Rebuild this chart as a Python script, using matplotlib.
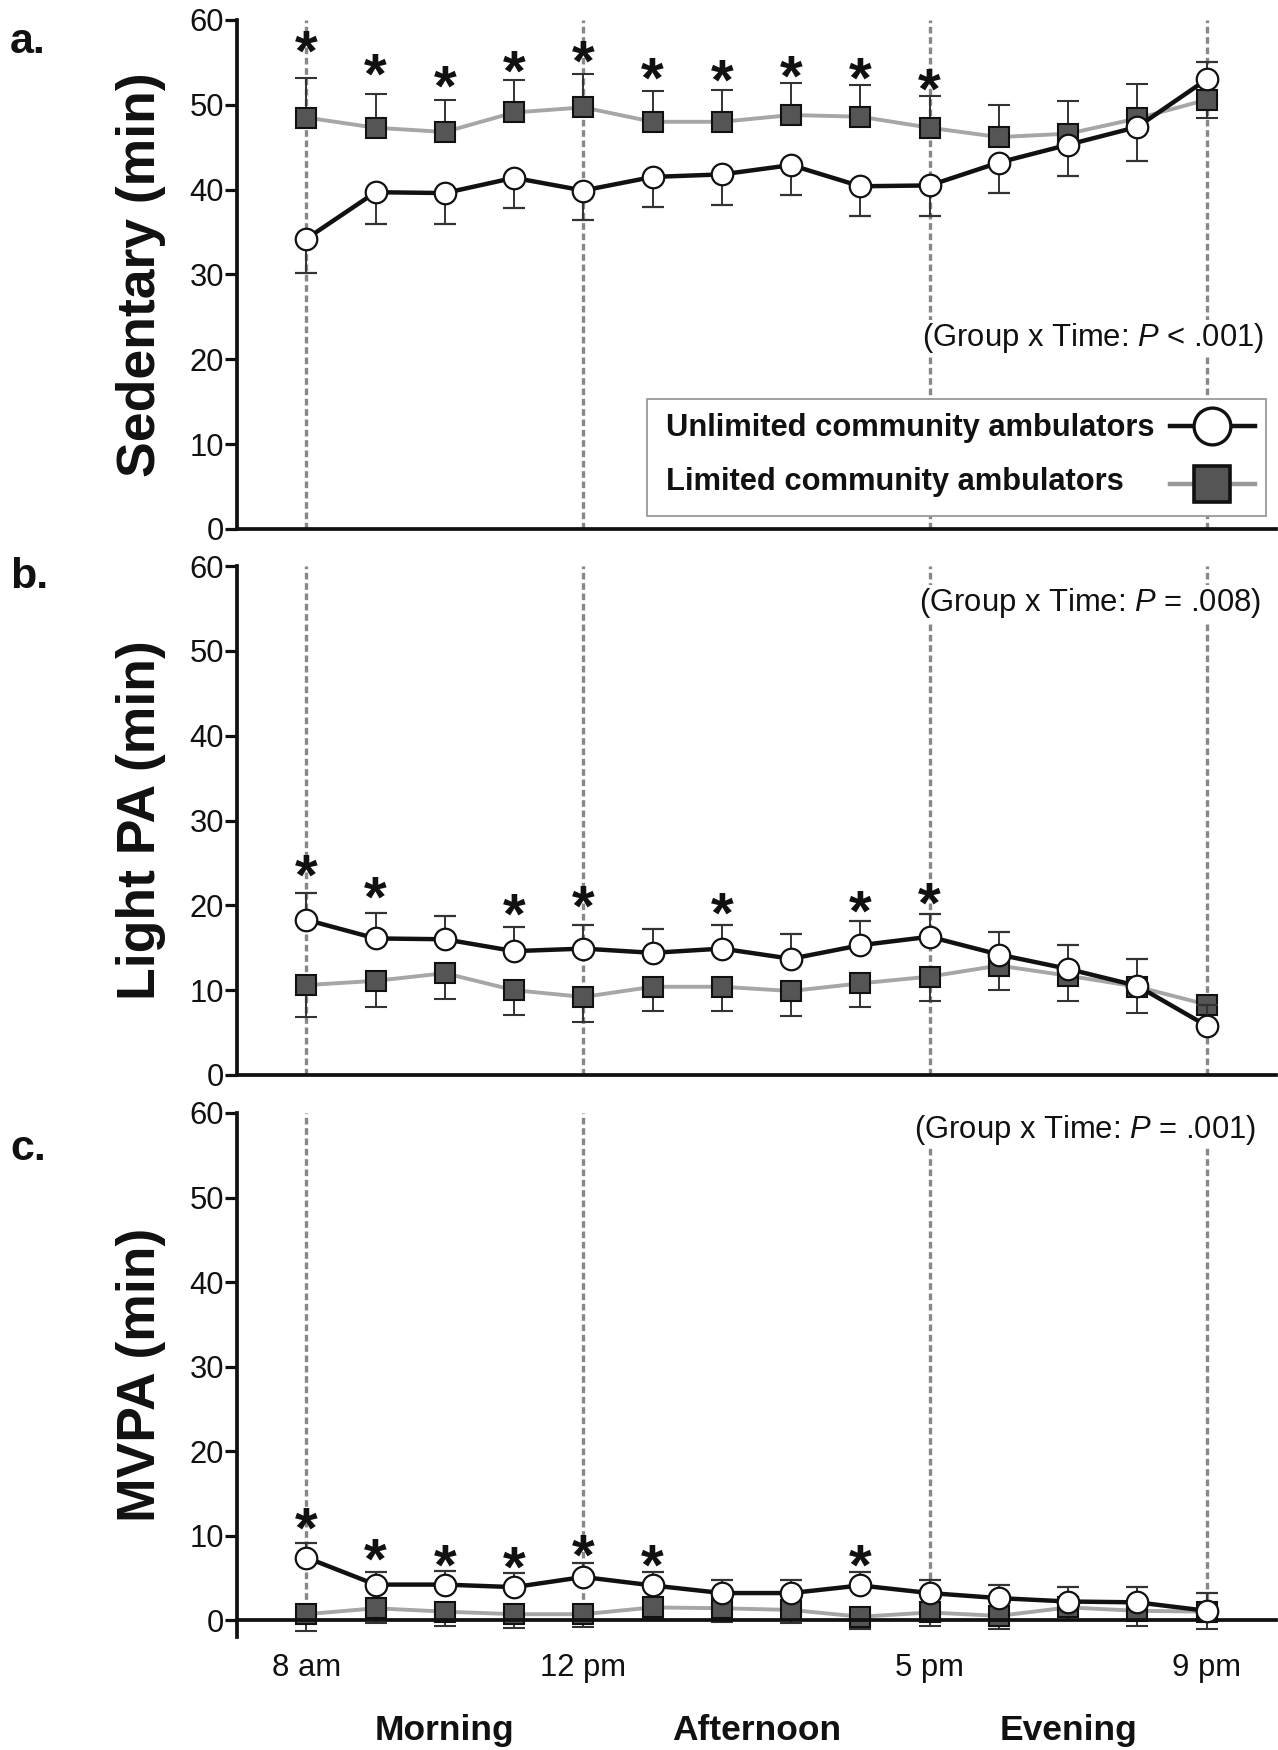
import matplotlib
matplotlib.use('Agg')
import matplotlib.pyplot as plt
from matplotlib.lines import Line2D
from matplotlib.patches import Rectangle

plt.rcParams['font.family'] = ['Liberation Sans', 'DejaVu Sans']
plt.rcParams['mathtext.fontset'] = 'custom'
plt.rcParams['mathtext.rm'] = 'Liberation Sans'
plt.rcParams['mathtext.it'] = 'Liberation Sans:italic'

# ---------------- data ----------------
hours = [8, 9, 10, 11, 12, 13, 14, 15, 16, 17, 18, 19, 20, 21]
tick_hours = [8, 12, 17, 21]
tick_labels = ['8 am', '12 pm', '5 pm', '9 pm']
period_labels = ['Morning', 'Afternoon', 'Evening']
period_centers = [10, 14.5, 19]
group_labels = ['Unlimited community ambulators', 'Limited community ambulators']

# Sedentary
sed_unl = [34.2, 39.7, 39.6, 41.4, 39.9, 41.5, 41.8, 42.9, 40.4, 40.5, 43.2, 45.3, 47.4, 53.0]
sed_unl_lo = [4.0, 3.7, 3.6, 3.6, 3.5, 3.6, 3.6, 3.5, 3.5, 3.6, 3.6, 3.7, 4.0, 0.0]
sed_unl_hi = [0, 0, 0, 0, 0, 0, 0, 0, 0, 0, 0, 0, 0, 2.1]
sed_lim = [48.5, 47.3, 46.8, 49.1, 49.7, 48.0, 48.0, 48.8, 48.6, 47.3, 46.2, 46.6, 48.4, 50.6]
sed_lim_lo = [0, 0, 0, 0, 0, 0, 0, 0, 0, 0, 0, 0, 0, 2.2]
sed_lim_hi = [4.7, 4.0, 3.8, 3.8, 3.9, 3.6, 3.7, 3.8, 3.7, 3.7, 3.8, 3.9, 4.0, 0.0]
sed_star_hours = [8, 9, 10, 11, 12, 13, 14, 15, 16, 17]
sed_star_y = [57.7, 54.9, 53.5, 55.3, 56.5, 54.5, 54.3, 54.7, 54.5, 53.2]

# Light PA
lpa_unl = [18.3, 16.1, 16.0, 14.6, 14.9, 14.4, 14.9, 13.7, 15.3, 16.3, 14.2, 12.5, 10.5, 5.8]
lpa_unl_lo = [0, 0, 0, 0, 0, 0, 0, 0, 0, 0, 0, 0, 0, 0]
lpa_unl_hi = [3.2, 3.0, 2.8, 2.8, 2.8, 2.8, 2.8, 2.9, 2.8, 2.7, 2.7, 2.8, 3.2, 2.5]
lpa_lim = [10.6, 11.1, 12.0, 10.0, 9.2, 10.4, 10.4, 9.9, 10.8, 11.6, 12.9, 11.7, 10.4, 8.3]
lpa_lim_lo = [3.8, 3.1, 3.0, 2.9, 2.9, 2.8, 2.8, 3.0, 2.8, 2.9, 2.9, 3.0, 3.1, 2.5]
lpa_lim_hi = [0, 0, 0, 0, 0, 0, 0, 0, 0, 0, 0, 0, 0, 0]
lpa_star_hours = [8, 9, 11, 12, 14, 16, 17]
lpa_star_y = [24.9, 22.3, 20.3, 21.2, 20.4, 20.6, 21.6]

# MVPA
mv_unl = [7.4, 4.2, 4.2, 3.9, 5.1, 4.1, 3.2, 3.2, 4.1, 3.2, 2.6, 2.2, 2.1, 1.1]
mv_unl_lo = [0, 0, 0, 0, 0, 0, 0, 0, 0, 0, 0, 0, 0, 0]
mv_unl_hi = [1.7, 1.5, 1.6, 1.7, 1.6, 1.6, 1.5, 1.5, 1.6, 1.5, 1.6, 1.7, 1.8, 2.1]
mv_lim = [0.7, 1.4, 1.0, 0.7, 0.7, 1.5, 1.4, 1.2, 0.4, 0.9, 0.5, 1.5, 1.1, 1.0]
mv_lim_lo = [2.0, 1.7, 1.7, 1.6, 1.5, 1.4, 1.6, 1.6, 1.5, 1.6, 1.6, 1.5, 1.8, 2.1]
mv_lim_hi = [0, 0, 0, 0, 0, 0, 0, 0, 0, 0, 0, 0, 0, 0]
mv_star_hours = [8, 9, 10, 11, 12, 13, 16]
mv_star_y = [12.2, 8.5, 7.9, 7.6, 9.0, 7.8, 7.8]

panel_letters = ['a.', 'b.', 'c.']
ylabels = ['Sedentary (min)', 'Light PA (min)', 'MVPA (min)']
p_texts = ['(Group x Time: $P$ < .001)', '(Group x Time: $P$ = .008)',
           '(Group x Time: $P$ = .001)']
p_pos = [(21.83, 22.5), (21.79, 55.6), (21.71, 58.0)]

# ---------------- style ----------------
W, H = 1278, 1750
BLACK = '#111111'
LIM_LINE = '#a6a6a6'
LIM_FACE = '#555555'
ERR_C = '#333333'
DASH_C = '#888888'
STAR_FS = 42

fig = plt.figure(figsize=(W / 100, H / 100), dpi=100)

# pixel boxes: left, right, y(60), y(bottom)
boxes = [(237, 1276, 20, 529), (237, 1276, 566, 1075), (237, 1276, 1113, 1637)]
ylims = [(0, 60), (0, 60), (-2, 60)]
letter_pos = [(10, 53), (10, 588), (10, 1160)]

panels = [
    (sed_unl, sed_unl_lo, sed_unl_hi, sed_lim, sed_lim_lo, sed_lim_hi, sed_star_hours, sed_star_y),
    (lpa_unl, lpa_unl_lo, lpa_unl_hi, lpa_lim, lpa_lim_lo, lpa_lim_hi, lpa_star_hours, lpa_star_y),
    (mv_unl, mv_unl_lo, mv_unl_hi, mv_lim, mv_lim_lo, mv_lim_hi, mv_star_hours, mv_star_y),
]

axes = []
for i, (l, r, t, b) in enumerate(boxes):
    ax = fig.add_axes([l / W, 1 - b / H, (r - l) / W, (b - t) / H])
    axes.append(ax)
    unl, unl_lo, unl_hi, lim, lim_lo, lim_hi, s_h, s_y = panels[i]
    ax.set_xlim(7, 22)
    ax.set_ylim(*ylims[i])

    # vertical dashed reference lines
    ax.vlines(tick_hours, 0, 60, colors=DASH_C, linestyles=(0, (2.0, 1.1)),
              linewidth=2.4, zorder=0.5)

    # limited group
    ax.errorbar(hours, lim, yerr=[lim_lo, lim_hi], color=LIM_LINE, lw=2.8,
                marker='s', ms=14.5, mfc=LIM_FACE, mec=BLACK, mew=1.5,
                ecolor=ERR_C, elinewidth=1.4, capsize=8, capthick=1.4,
                zorder=2, clip_on=False)
    # unlimited group
    ax.errorbar(hours, unl, yerr=[unl_lo, unl_hi], color=BLACK, lw=3.2,
                marker='o', ms=15.5, mfc='white', mec=BLACK, mew=1.6,
                ecolor=ERR_C, elinewidth=1.4, capsize=8, capthick=1.4,
                zorder=3, clip_on=False)

    # significance asterisks
    for h, y in zip(s_h, s_y):
        ax.annotate('*', (h, y), xytext=(0, -0.27 * STAR_FS), textcoords='offset points',
                    ha='center', va='center', fontsize=STAR_FS, fontweight='bold',
                    color=BLACK, zorder=4, annotation_clip=False)

    # P value text
    ax.text(p_pos[i][0], p_pos[i][1], p_texts[i], ha='right', va='center',
            fontsize=22.3, color=BLACK, zorder=5,
            bbox=dict(facecolor='white', edgecolor='none', pad=1))

    # axes styling
    for s in ['top', 'right']:
        ax.spines[s].set_visible(False)
    for s in ['left', 'bottom']:
        ax.spines[s].set_linewidth(2.7)
        ax.spines[s].set_color(BLACK)
    ax.set_yticks([0, 10, 20, 30, 40, 50, 60])
    ax.tick_params(axis='y', length=8.5, width=2.3, pad=1, labelsize=22.3,
                   colors=BLACK)
    if i < 2:
        ax.set_xticks([])
    else:
        ax.spines['bottom'].set_position(('data', 0))
        ax.set_xticks(tick_hours)
        ax.set_xticklabels(tick_labels)
        ax.tick_params(axis='x', length=0, pad=24, labelsize=22.3, colors=BLACK)
        for xc, lab in zip(period_centers, period_labels):
            ax.text(xc, -14.2, lab, ha='center', va='baseline', fontsize=25.5,
                    fontweight='bold', color=BLACK, clip_on=False)
    ax.set_ylabel(ylabels[i], fontsize=38.5, fontweight='bold', color=BLACK)
    ax.yaxis.set_label_coords(-0.0683, 0.5)

    fig.text(letter_pos[i][0] / W, 1 - letter_pos[i][1] / H, panel_letters[i],
             ha='left', va='baseline', fontsize=31, fontweight='bold', color=BLACK)

# ---------------- legend (panel a) ----------------
ax = axes[0]
l, r, t, b = boxes[0]
def fx(px):
    return (px - l) / (r - l)
def fy(py):
    return (b - py) / (b - t)

ax.add_patch(Rectangle((fx(647), fy(516)), fx(1266) - fx(647), fy(399) - fy(516),
                       transform=ax.transAxes, facecolor='white',
                       edgecolor='#9a9a9a', lw=1.3, zorder=6, clip_on=False))
ax.text(fx(666), fy(436), group_labels[0], transform=ax.transAxes, ha='left',
        va='baseline', fontsize=22.2, fontweight='bold', color=BLACK, zorder=7)
ax.text(fx(666), fy(490), group_labels[1], transform=ax.transAxes, ha='left',
        va='baseline', fontsize=22.2, fontweight='bold', color=BLACK, zorder=7)
ax.add_line(Line2D([fx(1170), fx(1255)], [fy(426), fy(426)], transform=ax.transAxes,
                   color=BLACK, lw=3.2, zorder=7))
ax.add_line(Line2D([fx(1212)], [fy(426)], transform=ax.transAxes, marker='o',
                   ms=26.5, mfc='white', mec=BLACK, mew=2.4, ls='none', zorder=8))
ax.add_line(Line2D([fx(1170), fx(1255)], [fy(484), fy(484)], transform=ax.transAxes,
                   color='#999999', lw=3.2, zorder=7))
ax.add_line(Line2D([fx(1212)], [fy(484)], transform=ax.transAxes, marker='s',
                   ms=26, mfc=LIM_FACE, mec=BLACK, mew=2.6, ls='none', zorder=8))

fig.savefig('out.png', dpi=100)
